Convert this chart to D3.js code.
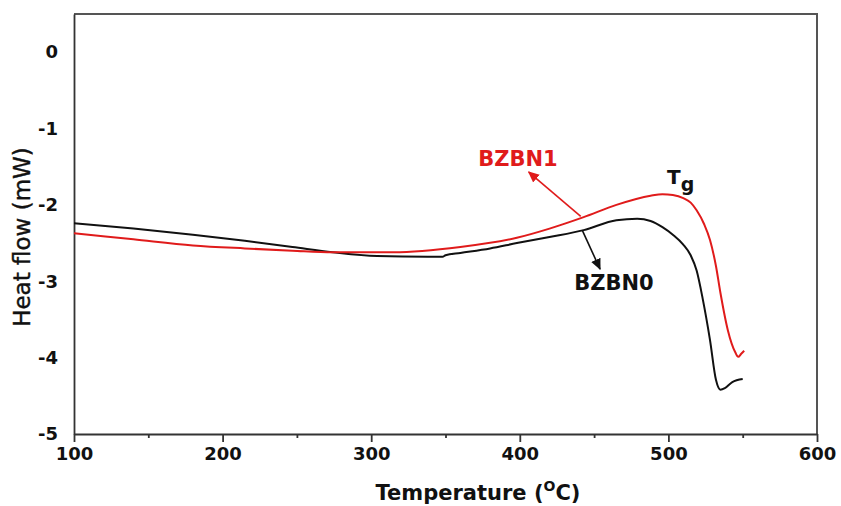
<!DOCTYPE html>
<html>
<head>
<meta charset="utf-8">
<script src="https://cdn.jsdelivr.net/npm/d3@7"></script>
<style>
  html, body { margin: 0; padding: 0; background: #fff; }
  svg { display: block; font-family: "DejaVu Sans", sans-serif; }
</style>
</head>
<body>
<svg id="chart" width="841" height="506"></svg>
<script>
// DSC heat-flow traces (temperature in °C, heat flow in mW)
const bzbn0Temp = [100, 140, 180, 215, 247, 274, 304, 338, 348, 350, 360, 380, 398, 420, 443, 465, 479, 488, 496, 503, 510, 515, 519, 523, 528, 532, 535, 538, 543, 550];
const bzbn0Flow = [-2.24, -2.31, -2.39, -2.47, -2.55, -2.62, -2.67, -2.68, -2.68, -2.66, -2.63, -2.57, -2.50, -2.42, -2.33, -2.20, -2.18, -2.21, -2.29, -2.39, -2.52, -2.66, -2.86, -3.22, -3.77, -4.29, -4.42, -4.40, -4.32, -4.28];

const bzbn1Temp = [100, 140, 180, 215, 247, 274, 315, 360, 398, 420, 443, 465, 488, 496, 503, 510, 515, 519, 524, 528, 532, 535, 540, 545, 547, 549, 551];
const bzbn1Flow = [-2.37, -2.45, -2.53, -2.57, -2.60, -2.62, -2.62, -2.55, -2.43, -2.31, -2.16, -2.00, -1.88, -1.86, -1.87, -1.91, -1.97, -2.07, -2.25, -2.46, -2.80, -3.15, -3.64, -3.93, -3.99, -3.95, -3.91];

const xTicks = [100, 200, 300, 400, 500, 600];
const xMinorTicks = [150, 250, 350, 450, 550];
const yTicks = [0, -1, -2, -3, -4, -5];

const svg = d3.select("#chart");
const plotLeft = 74, plotRight = 817, plotTop = 14, plotBottom = 434;

const x = d3.scaleLinear().domain([100, 600]).range([plotLeft, plotRight]);
const y = d3.scaleLinear().domain([-5, 0.5]).range([plotBottom, plotTop]);

// frame (top and right edges)
svg.append("path")
  .attr("d", `M${plotLeft},${plotTop}H${plotRight}V${plotBottom}`)
  .attr("fill", "none")
  .attr("stroke", "#555")
  .attr("stroke-width", 2);

// x axis: major ticks with labels, minor ticks between
svg.append("g").attr("transform", `translate(0,${plotBottom})`)
  .call(d3.axisBottom(x).tickValues(xTicks).tickSize(8).tickPadding(5).tickSizeOuter(0));
svg.append("g").attr("transform", `translate(0,${plotBottom})`)
  .call(d3.axisBottom(x).tickValues(xMinorTicks).tickSize(4).tickFormat("").tickSizeOuter(0))
  .select(".domain").remove();

// y axis labels use a plain hyphen for the sign
svg.append("g").attr("transform", `translate(${plotLeft},0)`)
  .call(d3.axisLeft(y).tickValues(yTicks).tickSize(0).tickPadding(16).tickFormat(d => String(d)).tickSizeOuter(0));

svg.selectAll(".domain, .tick line").attr("stroke", "#333").attr("stroke-width", 1.8);
svg.selectAll(".tick text")
  .attr("fill", "#111")
  .attr("font-size", 18)
  .attr("font-weight", "bold")
  .attr("font-family", "DejaVu Sans, sans-serif");

// axis titles
const xTitle = svg.append("text")
  .attr("x", 478).attr("y", 500)
  .attr("text-anchor", "middle")
  .attr("font-size", 21).attr("font-weight", "bold").attr("fill", "#111");
xTitle.append("tspan").text("Temperature (");
xTitle.append("tspan").attr("font-size", 14).attr("dy", -9).text("O");
xTitle.append("tspan").attr("dy", 9).text("C)");

svg.append("text")
  .attr("transform", "translate(30,237) rotate(-90)")
  .attr("text-anchor", "middle")
  .attr("font-size", 23).attr("fill", "#111")
  .attr("stroke", "#111").attr("stroke-width", 0.4)
  .text("Heat flow (mW)");

// curves
const line = d3.line().x(d => x(d[0])).y(d => y(d[1])).curve(d3.curveMonotoneX);

svg.append("path")
  .datum(d3.zip(bzbn0Temp, bzbn0Flow))
  .attr("d", line)
  .attr("fill", "none").attr("stroke", "#111").attr("stroke-width", 2);

svg.append("path")
  .datum(d3.zip(bzbn1Temp, bzbn1Flow))
  .attr("d", line)
  .attr("fill", "none").attr("stroke", "#e01b1b").attr("stroke-width", 2);

// arrow markers
const defs = svg.append("defs");
[["headRed", "#e01b1b"], ["headBlack", "#111"]].forEach(([id, c]) => {
  defs.append("marker")
    .attr("id", id).attr("viewBox", "0 0 10 10")
    .attr("refX", 9).attr("refY", 5)
    .attr("markerWidth", 7).attr("markerHeight", 7)
    .attr("orient", "auto")
    .append("path").attr("d", "M0,0.5L10,5L0,9.5Z").attr("fill", c);
});

// labels with pointer arrows
svg.append("line")
  .attr("x1", x(441)).attr("y1", y(-2.15))
  .attr("x2", x(406)).attr("y2", y(-1.57))
  .attr("stroke", "#e01b1b").attr("stroke-width", 1.6)
  .attr("marker-end", "url(#headRed)");
svg.append("text")
  .attr("x", 518).attr("y", 166)
  .attr("text-anchor", "middle")
  .attr("font-size", 21).attr("font-weight", "bold").attr("fill", "#e01b1b")
  .text("BZBN1");

svg.append("line")
  .attr("x1", x(442)).attr("y1", y(-2.33))
  .attr("x2", x(454)).attr("y2", y(-2.84))
  .attr("stroke", "#111").attr("stroke-width", 1.6)
  .attr("marker-end", "url(#headBlack)");
svg.append("text")
  .attr("x", 614).attr("y", 290)
  .attr("text-anchor", "middle")
  .attr("font-size", 21).attr("font-weight", "bold").attr("fill", "#111")
  .text("BZBN0");

const tg = svg.append("text")
  .attr("x", 667).attr("y", 184)
  .attr("font-size", 20).attr("font-weight", "bold").attr("fill", "#111");
tg.append("tspan").text("T");
tg.append("tspan").attr("dy", 7).attr("font-size", 19).text("g");
</script>
</body>
</html>
